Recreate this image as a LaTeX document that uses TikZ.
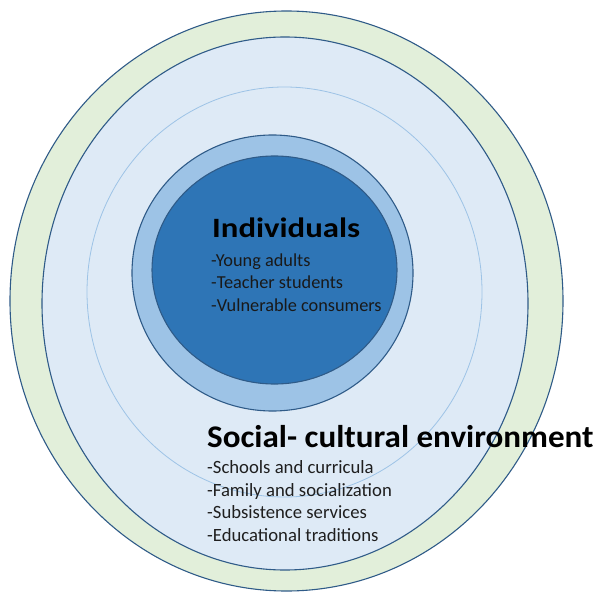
\documentclass[tikz,border=0pt]{standalone}
\usepackage{fontspec}
\setmainfont{Carlito}
\definecolor{ringgreen}{HTML}{E2EFDA}
\definecolor{paleblue}{HTML}{DEEAF6}
\definecolor{midblue}{HTML}{9DC3E6}
\definecolor{coreblue}{HTML}{2E75B6}
\definecolor{edgeblue}{HTML}{2F5B88}
\definecolor{thinblue}{HTML}{9DC3E6}
\begin{document}
\begin{tikzpicture}[x=1pt,y=-1pt,
  ring/.style={draw=edgeblue,line width=1.1pt},
  bigtitle/.style={anchor=base west,inner sep=0pt,text=black,font=\bfseries\fontsize{31.5}{36}\selectfont},
  smalltitle/.style={anchor=base west,inner sep=0pt,text=black,font=\bfseries\fontsize{28}{32}\selectfont},
  biglist/.style={anchor=base west,inner sep=0pt,text=black!88,font=\fontsize{18.7}{22}\selectfont},
  smalllist/.style={anchor=base west,inner sep=0pt,text=black!90,font=\fontsize{18.3}{22}\selectfont}]
\useasboundingbox (0,0) rectangle (601,593);

% nested levels, outermost first
\path[ring,fill=ringgreen] (286.5,301) ellipse [x radius=276.5,y radius=290];
\path[ring,fill=paleblue] (285,303.5) ellipse [x radius=243,y radius=266.5];
\path[draw=thinblue,line width=0.8pt] (284.5,292) ellipse [x radius=197.5,y radius=205];
\path[ring,fill=midblue] (272.5,273) ellipse [x radius=140.5,y radius=138];
\path[ring,fill=coreblue] (274.5,270) ellipse [x radius=122.5,y radius=114];

% inner level
\node[smalltitle] (indiv) at (212,237) {\scalebox{1.17}[1]{Individuals}};
\node[smalllist] (ind1) at (211,266) {-Young adults};
\node[smalllist] (ind2) at (211,288.5) {-Teacher students};
\node[smalllist] (ind3) at (211,311) {-Vulnerable consumers};

% outer level
\node[bigtitle] (social) at (207,447) {\scalebox{1.05}[1]{Social- cultural environment}};
\node[biglist] (soc1) at (207,473.5) {-Schools and curricula};
\node[biglist] (soc2) at (207,496) {-Family and socialization};
\node[biglist] (soc3) at (207,518.5) {-Subsistence services};
\node[biglist] (soc4) at (207,541) {-Educational traditions};
\end{tikzpicture}
\end{document}
